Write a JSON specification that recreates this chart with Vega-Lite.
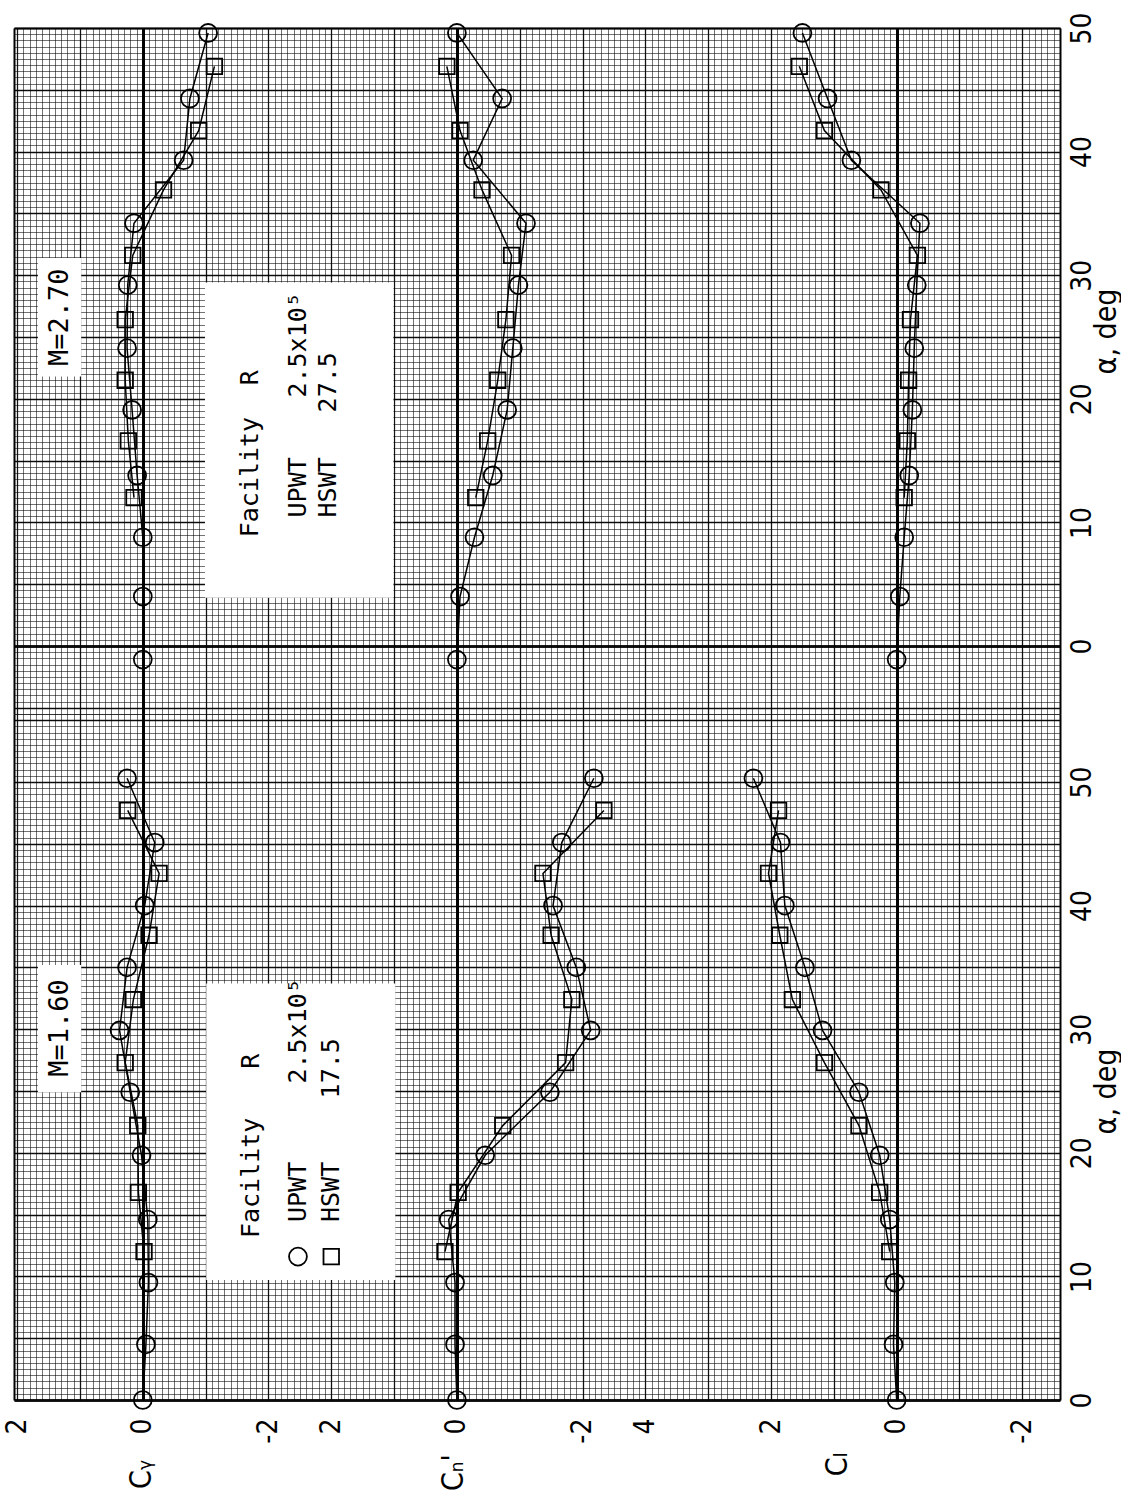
{
  "$schema": "https://vega.github.io/schema/vega-lite/v6.json",
  "background": "white",
  "padding": {"left": 3, "top": 11, "right": 0, "bottom": 0},
  "spacing": 0,
  "bounds": "flush",
  "config": {"view": {"stroke": null}},
  "datasets": {
    "pts": [
      {"panel": "M=2.70", "facility": "UPWT", "alpha": -1.1, "CY": 0.0, "Cn": 0.0, "Cl": 0.0},
      {"panel": "M=2.70", "facility": "UPWT", "alpha": 4.0, "CY": 0.0, "Cn": -0.05, "Cl": -0.05},
      {"panel": "M=2.70", "facility": "UPWT", "alpha": 8.8, "CY": 0.0, "Cn": -0.28, "Cl": -0.12},
      {"panel": "M=2.70", "facility": "UPWT", "alpha": 13.8, "CY": 0.09, "Cn": -0.57, "Cl": -0.2},
      {"panel": "M=2.70", "facility": "UPWT", "alpha": 19.1, "CY": 0.17, "Cn": -0.8, "Cl": -0.25},
      {"panel": "M=2.70", "facility": "UPWT", "alpha": 24.1, "CY": 0.25, "Cn": -0.89, "Cl": -0.28},
      {"panel": "M=2.70", "facility": "UPWT", "alpha": 29.2, "CY": 0.24, "Cn": -0.98, "Cl": -0.32},
      {"panel": "M=2.70", "facility": "UPWT", "alpha": 34.2, "CY": 0.14, "Cn": -1.1, "Cl": -0.37},
      {"panel": "M=2.70", "facility": "UPWT", "alpha": 39.3, "CY": -0.65, "Cn": -0.26, "Cl": 0.72},
      {"panel": "M=2.70", "facility": "UPWT", "alpha": 44.3, "CY": -0.75, "Cn": -0.72, "Cl": 1.1},
      {"panel": "M=2.70", "facility": "UPWT", "alpha": 49.6, "CY": -1.04, "Cn": 0.0, "Cl": 1.5},
      {"panel": "M=2.70", "facility": "HSWT", "alpha": 12.0, "CY": 0.14, "Cn": -0.3, "Cl": -0.12},
      {"panel": "M=2.70", "facility": "HSWT", "alpha": 16.6, "CY": 0.23, "Cn": -0.49, "Cl": -0.17},
      {"panel": "M=2.70", "facility": "HSWT", "alpha": 21.5, "CY": 0.28, "Cn": -0.65, "Cl": -0.19},
      {"panel": "M=2.70", "facility": "HSWT", "alpha": 26.4, "CY": 0.28, "Cn": -0.78, "Cl": -0.22},
      {"panel": "M=2.70", "facility": "HSWT", "alpha": 31.6, "CY": 0.16, "Cn": -0.87, "Cl": -0.33},
      {"panel": "M=2.70", "facility": "HSWT", "alpha": 36.9, "CY": -0.33, "Cn": -0.4, "Cl": 0.25},
      {"panel": "M=2.70", "facility": "HSWT", "alpha": 41.7, "CY": -0.89, "Cn": -0.05, "Cl": 1.15},
      {"panel": "M=2.70", "facility": "HSWT", "alpha": 46.9, "CY": -1.14, "Cn": 0.16, "Cl": 1.55},
      {"panel": "M=1.60", "facility": "UPWT", "alpha": 0.0, "CY": 0.0, "Cn": 0.0, "Cl": 0.0},
      {"panel": "M=1.60", "facility": "UPWT", "alpha": 4.5, "CY": -0.05, "Cn": 0.03, "Cl": 0.05},
      {"panel": "M=1.60", "facility": "UPWT", "alpha": 9.5, "CY": -0.09, "Cn": 0.03, "Cl": 0.03},
      {"panel": "M=1.60", "facility": "UPWT", "alpha": 14.6, "CY": -0.08, "Cn": 0.13, "Cl": 0.11},
      {"panel": "M=1.60", "facility": "UPWT", "alpha": 19.8, "CY": 0.02, "Cn": -0.45, "Cl": 0.27},
      {"panel": "M=1.60", "facility": "UPWT", "alpha": 24.9, "CY": 0.2, "Cn": -1.48, "Cl": 0.6},
      {"panel": "M=1.60", "facility": "UPWT", "alpha": 29.9, "CY": 0.37, "Cn": -2.13, "Cl": 1.18},
      {"panel": "M=1.60", "facility": "UPWT", "alpha": 35.0, "CY": 0.25, "Cn": -1.9, "Cl": 1.46},
      {"panel": "M=1.60", "facility": "UPWT", "alpha": 40.0, "CY": -0.03, "Cn": -1.53, "Cl": 1.78},
      {"panel": "M=1.60", "facility": "UPWT", "alpha": 45.1, "CY": -0.19, "Cn": -1.67, "Cl": 1.85},
      {"panel": "M=1.60", "facility": "UPWT", "alpha": 50.3, "CY": 0.25, "Cn": -2.18, "Cl": 2.28},
      {"panel": "M=1.60", "facility": "HSWT", "alpha": 12.0, "CY": -0.02, "Cn": 0.19, "Cl": 0.11},
      {"panel": "M=1.60", "facility": "HSWT", "alpha": 16.8, "CY": 0.07, "Cn": -0.02, "Cl": 0.27},
      {"panel": "M=1.60", "facility": "HSWT", "alpha": 22.2, "CY": 0.08, "Cn": -0.73, "Cl": 0.6},
      {"panel": "M=1.60", "facility": "HSWT", "alpha": 27.3, "CY": 0.28, "Cn": -1.73, "Cl": 1.15},
      {"panel": "M=1.60", "facility": "HSWT", "alpha": 32.4, "CY": 0.15, "Cn": -1.83, "Cl": 1.66},
      {"panel": "M=1.60", "facility": "HSWT", "alpha": 37.6, "CY": -0.1, "Cn": -1.5, "Cl": 1.86},
      {"panel": "M=1.60", "facility": "HSWT", "alpha": 42.6, "CY": -0.26, "Cn": -1.37, "Cl": 2.04},
      {"panel": "M=1.60", "facility": "HSWT", "alpha": 47.7, "CY": 0.24, "Cn": -2.34, "Cl": 1.88}
    ],
    "ann": [
      {"panel": "M=2.70", "kind": "box", "x": -0.99, "x2": -3.99, "a": 29.4, "a2": 3.9},
      {"panel": "M=2.70", "kind": "box", "x": 1.67, "x2": 0.98, "a": 31.4, "a2": 21.8},
      {"panel": "M=2.70", "kind": "mach", "text": "M=2.70", "x": 1.32, "a": 26.6},
      {"panel": "M=2.70", "kind": "text", "text": "Facility", "x": -1.71, "a": 8.8},
      {"panel": "M=2.70", "kind": "text", "text": "R", "x": -1.71, "a": 21.1},
      {"panel": "M=2.70", "kind": "text", "text": "UPWT", "x": -2.47, "a": 10.4},
      {"panel": "M=2.70", "kind": "text", "text": "2.5x10⁵", "x": -2.47, "a": 20.1},
      {"panel": "M=2.70", "kind": "text", "text": "HSWT", "x": -2.95, "a": 10.4},
      {"panel": "M=2.70", "kind": "text", "text": "27.5", "x": -2.95, "a": 18.9},
      {"panel": "M=1.60", "kind": "box", "x": -1.01, "x2": -4.02, "a": 33.7, "a2": 9.7},
      {"panel": "M=1.60", "kind": "box", "x": 1.67, "x2": 0.98, "a": 35.2, "a2": 24.9},
      {"panel": "M=1.60", "kind": "mach", "text": "M=1.60", "x": 1.32, "a": 30.1},
      {"panel": "M=1.60", "kind": "text", "text": "Facility", "x": -1.72, "a": 13.1},
      {"panel": "M=1.60", "kind": "text", "text": "R", "x": -1.72, "a": 26.8},
      {"panel": "M=1.60", "kind": "sym", "text": "UPWT", "x": -2.47, "a": 11.6},
      {"panel": "M=1.60", "kind": "text", "text": "UPWT", "x": -2.47, "a": 14.4},
      {"panel": "M=1.60", "kind": "text", "text": "2.5x10⁵", "x": -2.47, "a": 25.6},
      {"panel": "M=1.60", "kind": "sym", "text": "HSWT", "x": -3.0, "a": 11.6},
      {"panel": "M=1.60", "kind": "text", "text": "HSWT", "x": -3.0, "a": 14.4},
      {"panel": "M=1.60", "kind": "text", "text": "17.5", "x": -3.0, "a": 24.4}
    ]
  },
  "vconcat": [
    {
      "width": 1046,
      "height": 686,
      "resolve": {"scale": {"x": "independent", "y": "independent"}},
      "layer": [
        {
          "data": {"name": "pts"},
          "transform": [{"filter": "datum.panel === 'M=2.70'"}],
          "mark": {"type": "point", "opacity": 0},
          "encoding": {
            "x": {"field": "CY", "type": "quantitative", "scale": {"domain": [-14.6, 2.05], "reverse": true, "nice": false, "zero": false},
              "axis": {"orient": "bottom", "grid": true, "tickCount": 170, "labels": false, "ticks": false, "domain": false, "title": null, "gridColor": "#000", "gridOpacity": 0.62, "gridWidth": 0.9}},
            "y": {"field": "alpha", "type": "quantitative", "scale": {"domain": [-5.5, 50], "nice": false, "zero": false},
              "axis": {"orient": "left", "grid": true, "tickCount": 111, "labels": false, "ticks": false, "domain": true, "domainColor": "#000", "domainWidth": 2, "title": null, "gridColor": "#000", "gridOpacity": 0.62, "gridWidth": 0.9}}
          }
        },
        {
          "data": {"name": "pts"},
          "transform": [{"filter": "datum.panel === 'M=2.70'"}],
          "mark": {"type": "point", "opacity": 0},
          "encoding": {
            "x": {"field": "CY", "type": "quantitative", "scale": {"domain": [-14.6, 2.05], "reverse": true, "nice": false, "zero": false},
              "axis": {"orient": "top", "grid": true, "tickCount": 17, "labels": false, "ticks": false, "domain": true, "domainColor": "#000", "domainWidth": 2, "title": null, "gridColor": "#000", "gridOpacity": 0.85, "gridWidth": 1.3}},
            "y": {"field": "alpha", "type": "quantitative", "scale": {"domain": [-5.5, 50], "nice": false, "zero": false},
              "axis": {"orient": "right", "grid": true, "tickCount": 11, "gridColor": "#000", "gridOpacity": 0.9,
                "gridWidth": {"condition": {"test": "datum.value === 0", "value": 3}, "value": 1.3},
                "ticks": false, "domain": true, "domainColor": "#000", "domainWidth": 2,
                "labelExpr": "datum.value % 10 === 0 && datum.value >= 0 ? datum.label : ''",
                "labelAngle": -90, "labelAlign": "center", "labelBaseline": "top", "labelPadding": 8, "labelOverlap": false,
                "labelFont": "'Liberation Sans Narrow', 'DejaVu Sans Condensed', 'DejaVu Sans'", "labelFontSize": 28, "labelColor": "#000",
                "title": "α, deg", "titleAngle": -90, "titleX": 46, "titleY": 303, "titleAlign": "center", "titleBaseline": "middle",
                "titleFont": "'Liberation Sans Narrow', 'DejaVu Sans Condensed', 'DejaVu Sans'", "titleFontSize": 30, "titleFontWeight": "normal", "titleColor": "#000"}}
          }
        },
        {
          "data": {"name": "ann"},
          "transform": [{"filter": "datum.panel === 'M=2.70'"}],
          "encoding": {
            "x": {"field": "x", "type": "quantitative", "scale": {"domain": [-14.6, 2.05], "reverse": true, "nice": false, "zero": false}, "axis": null},
            "y": {"field": "a", "type": "quantitative", "scale": {"domain": [-5.5, 50], "nice": false, "zero": false}, "axis": null}
          },
          "layer": [
            {"transform": [{"filter": "datum.kind === 'box'"}], "mark": {"type": "rect", "color": "#fff", "opacity": 1}, "encoding": {"x2": {"field": "x2"}, "y2": {"field": "a2"}}},
            {"transform": [{"filter": "datum.kind === 'text'"}], "mark": {"type": "text", "angle": -90, "align": "left", "baseline": "middle", "font": "DejaVu Sans Mono", "fontSize": 25, "color": "#000"}, "encoding": {"text": {"field": "text"}}},
            {"transform": [{"filter": "datum.kind === 'mach'"}], "mark": {"type": "text", "angle": -90, "align": "center", "baseline": "middle", "font": "DejaVu Sans Mono", "fontSize": 27, "color": "#000"}, "encoding": {"text": {"field": "text"}}}
          ]
        },
        {
          "data": {"name": "pts"},
          "transform": [{"filter": "datum.panel === 'M=2.70'"}],
          "encoding": {
            "x": {"field": "CY", "type": "quantitative", "scale": {"domain": [-14.6, 2.05], "reverse": true, "nice": false, "zero": false},
              "axis": {"orient": "bottom", "values": [0], "grid": true, "gridColor": "#000", "gridWidth": 3, "labels": false, "ticks": false, "domain": false, "title": null}},
            "y": {"field": "alpha", "type": "quantitative", "scale": {"domain": [-5.5, 50], "nice": false, "zero": false}, "axis": null}
          },
          "layer": [
            {"mark": {"type": "line", "color": "#000", "strokeWidth": 1.5}, "encoding": {"detail": {"field": "facility", "type": "nominal"}, "order": {"field": "alpha", "type": "quantitative"}}},
            {"transform": [{"filter": "datum.facility === 'UPWT'"}], "mark": {"type": "point", "shape": "circle", "filled": false, "color": "#000", "size": 320, "strokeWidth": 1.8, "opacity": 1}},
            {"transform": [{"filter": "datum.facility === 'HSWT'"}], "mark": {"type": "point", "shape": "square", "filled": false, "color": "#000", "size": 240, "strokeWidth": 1.8, "opacity": 1}}
          ]
        },
        {
          "data": {"name": "pts"},
          "transform": [{"filter": "datum.panel === 'M=2.70'"}],
          "encoding": {
            "x": {"field": "Cn", "type": "quantitative", "scale": {"domain": [-9.6, 7.05], "reverse": true, "nice": false, "zero": false},
              "axis": {"orient": "bottom", "values": [0], "grid": true, "gridColor": "#000", "gridWidth": 3, "labels": false, "ticks": false, "domain": false, "title": null}},
            "y": {"field": "alpha", "type": "quantitative", "scale": {"domain": [-5.5, 50], "nice": false, "zero": false}, "axis": null}
          },
          "layer": [
            {"mark": {"type": "line", "color": "#000", "strokeWidth": 1.5}, "encoding": {"detail": {"field": "facility", "type": "nominal"}, "order": {"field": "alpha", "type": "quantitative"}}},
            {"transform": [{"filter": "datum.facility === 'UPWT'"}], "mark": {"type": "point", "shape": "circle", "filled": false, "color": "#000", "size": 320, "strokeWidth": 1.8, "opacity": 1}},
            {"transform": [{"filter": "datum.facility === 'HSWT'"}], "mark": {"type": "point", "shape": "square", "filled": false, "color": "#000", "size": 240, "strokeWidth": 1.8, "opacity": 1}}
          ]
        },
        {
          "data": {"name": "pts"},
          "transform": [{"filter": "datum.panel === 'M=2.70'"}],
          "encoding": {
            "x": {"field": "Cl", "type": "quantitative", "scale": {"domain": [-2.6, 14.05], "reverse": true, "nice": false, "zero": false},
              "axis": {"orient": "bottom", "values": [0], "grid": true, "gridColor": "#000", "gridWidth": 3, "labels": false, "ticks": false, "domain": false, "title": null}},
            "y": {"field": "alpha", "type": "quantitative", "scale": {"domain": [-5.5, 50], "nice": false, "zero": false}, "axis": null}
          },
          "layer": [
            {"mark": {"type": "line", "color": "#000", "strokeWidth": 1.5}, "encoding": {"detail": {"field": "facility", "type": "nominal"}, "order": {"field": "alpha", "type": "quantitative"}}},
            {"transform": [{"filter": "datum.facility === 'UPWT'"}], "mark": {"type": "point", "shape": "circle", "filled": false, "color": "#000", "size": 320, "strokeWidth": 1.8, "opacity": 1}},
            {"transform": [{"filter": "datum.facility === 'HSWT'"}], "mark": {"type": "point", "shape": "square", "filled": false, "color": "#000", "size": 240, "strokeWidth": 1.8, "opacity": 1}}
          ]
        }
      ]
    },
    {
      "width": 1046,
      "height": 686,
      "resolve": {"scale": {"x": "independent", "y": "independent"}},
      "layer": [
        {
          "data": {"name": "pts"},
          "transform": [{"filter": "datum.panel === 'M=1.60'"}],
          "mark": {"type": "point", "opacity": 0},
          "encoding": {
            "x": {"field": "CY", "type": "quantitative", "scale": {"domain": [-14.6, 2.05], "reverse": true, "nice": false, "zero": false},
              "axis": {"orient": "bottom", "grid": true, "tickCount": 170, "labels": false, "ticks": false, "domain": false, "title": null, "gridColor": "#000", "gridOpacity": 0.62, "gridWidth": 0.9}},
            "y": {"field": "alpha", "type": "quantitative", "scale": {"domain": [0, 55.5], "nice": false, "zero": false},
              "axis": {"orient": "left", "grid": true, "tickCount": 111, "labels": false, "ticks": false, "domain": true, "domainColor": "#000", "domainWidth": 2, "title": null, "gridColor": "#000", "gridOpacity": 0.62, "gridWidth": 0.9}}
          }
        },
        {
          "data": {"name": "pts"},
          "transform": [{"filter": "datum.panel === 'M=1.60'"}],
          "mark": {"type": "point", "opacity": 0},
          "encoding": {
            "x": {"field": "CY", "type": "quantitative", "scale": {"domain": [-14.6, 2.05], "reverse": true, "nice": false, "zero": false},
              "axis": {"orient": "top", "grid": true, "tickCount": 17, "labels": false, "ticks": false, "domain": false, "title": null, "gridColor": "#000", "gridOpacity": 0.85, "gridWidth": 1.3}},
            "y": {"field": "alpha", "type": "quantitative", "scale": {"domain": [0, 55.5], "nice": false, "zero": false},
              "axis": {"orient": "right", "grid": true, "tickCount": 11, "gridColor": "#000", "gridOpacity": 0.9,
                "gridWidth": {"condition": {"test": "datum.value === 0", "value": 3}, "value": 1.3},
                "ticks": false, "domain": true, "domainColor": "#000", "domainWidth": 2,
                "labelExpr": "datum.value % 10 === 0 && datum.value >= 0 ? datum.label : ''",
                "labelAngle": -90, "labelAlign": "center", "labelBaseline": "top", "labelPadding": 8, "labelOverlap": false,
                "labelFont": "'Liberation Sans Narrow', 'DejaVu Sans Condensed', 'DejaVu Sans'", "labelFontSize": 28, "labelColor": "#000",
                "title": "α, deg", "titleAngle": -90, "titleX": 46, "titleY": 377, "titleAlign": "center", "titleBaseline": "middle",
                "titleFont": "'Liberation Sans Narrow', 'DejaVu Sans Condensed', 'DejaVu Sans'", "titleFontSize": 30, "titleFontWeight": "normal", "titleColor": "#000"}}
          }
        },
        {
          "data": {"name": "ann"},
          "transform": [{"filter": "datum.panel === 'M=1.60'"}],
          "encoding": {
            "x": {"field": "x", "type": "quantitative", "scale": {"domain": [-14.6, 2.05], "reverse": true, "nice": false, "zero": false}, "axis": null},
            "y": {"field": "a", "type": "quantitative", "scale": {"domain": [0, 55.5], "nice": false, "zero": false}, "axis": null}
          },
          "layer": [
            {"transform": [{"filter": "datum.kind === 'box'"}], "mark": {"type": "rect", "color": "#fff", "opacity": 1}, "encoding": {"x2": {"field": "x2"}, "y2": {"field": "a2"}}},
            {"transform": [{"filter": "datum.kind === 'text'"}], "mark": {"type": "text", "angle": -90, "align": "left", "baseline": "middle", "font": "DejaVu Sans Mono", "fontSize": 25, "color": "#000"}, "encoding": {"text": {"field": "text"}}},
            {"transform": [{"filter": "datum.kind === 'mach'"}], "mark": {"type": "text", "angle": -90, "align": "center", "baseline": "middle", "font": "DejaVu Sans Mono", "fontSize": 27, "color": "#000"}, "encoding": {"text": {"field": "text"}}},
            {"transform": [{"filter": "datum.kind === 'sym' && datum.text === 'UPWT'"}], "mark": {"type": "point", "shape": "circle", "filled": false, "color": "#000", "size": 320, "strokeWidth": 1.8, "opacity": 1}},
            {"transform": [{"filter": "datum.kind === 'sym' && datum.text === 'HSWT'"}], "mark": {"type": "point", "shape": "square", "filled": false, "color": "#000", "size": 240, "strokeWidth": 1.8, "opacity": 1}}
          ]
        },
        {
          "data": {"name": "pts"},
          "transform": [{"filter": "datum.panel === 'M=1.60'"}],
          "encoding": {
            "x": {"field": "CY", "type": "quantitative", "scale": {"domain": [-14.6, 2.05], "reverse": true, "nice": false, "zero": false},
              "axis": {"orient": "bottom", "values": [2, 0, -2], "grid": true, "gridColor": "#000",
                "gridWidth": {"condition": {"test": "datum.value === 0", "value": 3}, "value": 0},
                "labelExpr": "(datum.value < 0 ? '-' : '') + abs(datum.value)",
                "labelAngle": -90, "labelAlign": "right", "labelBaseline": "middle", "labelPadding": 18, "labelFlush": false,
                "labelFont": "'Liberation Sans Narrow', 'DejaVu Sans Condensed', 'DejaVu Sans'", "labelFontSize": 28, "labelColor": "#000",
                "ticks": false, "domain": false,
                "title": "Cᵧ", "titleAngle": -90, "titleX": 127, "titleY": 74, "titleAlign": "center", "titleBaseline": "middle",
                "titleFont": "'Liberation Sans Narrow', 'DejaVu Sans Condensed', 'DejaVu Sans'", "titleFontSize": 30, "titleFontWeight": "normal", "titleColor": "#000"}},
            "y": {"field": "alpha", "type": "quantitative", "scale": {"domain": [0, 55.5], "nice": false, "zero": false}, "axis": null}
          },
          "layer": [
            {"mark": {"type": "line", "color": "#000", "strokeWidth": 1.5}, "encoding": {"detail": {"field": "facility", "type": "nominal"}, "order": {"field": "alpha", "type": "quantitative"}}},
            {"transform": [{"filter": "datum.facility === 'UPWT'"}], "mark": {"type": "point", "shape": "circle", "filled": false, "color": "#000", "size": 320, "strokeWidth": 1.8, "opacity": 1}},
            {"transform": [{"filter": "datum.facility === 'HSWT'"}], "mark": {"type": "point", "shape": "square", "filled": false, "color": "#000", "size": 240, "strokeWidth": 1.8, "opacity": 1}}
          ]
        },
        {
          "data": {"name": "pts"},
          "transform": [{"filter": "datum.panel === 'M=1.60'"}],
          "encoding": {
            "x": {"field": "Cn", "type": "quantitative", "scale": {"domain": [-9.6, 7.05], "reverse": true, "nice": false, "zero": false},
              "axis": {"orient": "bottom", "values": [2, 0, -2], "grid": true, "gridColor": "#000",
                "gridWidth": {"condition": {"test": "datum.value === 0", "value": 3}, "value": 0},
                "labelExpr": "(datum.value < 0 ? '-' : '') + abs(datum.value)",
                "labelAngle": -90, "labelAlign": "right", "labelBaseline": "middle", "labelPadding": 18, "labelFlush": false,
                "labelFont": "'Liberation Sans Narrow', 'DejaVu Sans Condensed', 'DejaVu Sans'", "labelFontSize": 28, "labelColor": "#000",
                "ticks": false, "domain": false,
                "title": "Cₙ'", "titleAngle": -90, "titleX": 439, "titleY": 72, "titleAlign": "center", "titleBaseline": "middle",
                "titleFont": "'Liberation Sans Narrow', 'DejaVu Sans Condensed', 'DejaVu Sans'", "titleFontSize": 30, "titleFontWeight": "normal", "titleColor": "#000"}},
            "y": {"field": "alpha", "type": "quantitative", "scale": {"domain": [0, 55.5], "nice": false, "zero": false}, "axis": null}
          },
          "layer": [
            {"mark": {"type": "line", "color": "#000", "strokeWidth": 1.5}, "encoding": {"detail": {"field": "facility", "type": "nominal"}, "order": {"field": "alpha", "type": "quantitative"}}},
            {"transform": [{"filter": "datum.facility === 'UPWT'"}], "mark": {"type": "point", "shape": "circle", "filled": false, "color": "#000", "size": 320, "strokeWidth": 1.8, "opacity": 1}},
            {"transform": [{"filter": "datum.facility === 'HSWT'"}], "mark": {"type": "point", "shape": "square", "filled": false, "color": "#000", "size": 240, "strokeWidth": 1.8, "opacity": 1}}
          ]
        },
        {
          "data": {"name": "pts"},
          "transform": [{"filter": "datum.panel === 'M=1.60'"}],
          "encoding": {
            "x": {"field": "Cl", "type": "quantitative", "scale": {"domain": [-2.6, 14.05], "reverse": true, "nice": false, "zero": false},
              "axis": {"orient": "bottom", "values": [4, 2, 0, -2], "grid": true, "gridColor": "#000",
                "gridWidth": {"condition": {"test": "datum.value === 0", "value": 3}, "value": 0},
                "labelExpr": "(datum.value < 0 ? '-' : '') + abs(datum.value)",
                "labelAngle": -90, "labelAlign": "right", "labelBaseline": "middle", "labelPadding": 18, "labelFlush": false,
                "labelFont": "'Liberation Sans Narrow', 'DejaVu Sans Condensed', 'DejaVu Sans'", "labelFontSize": 28, "labelColor": "#000",
                "ticks": false, "domain": false,
                "title": "Cₗ", "titleAngle": -90, "titleX": 823, "titleY": 64, "titleAlign": "center", "titleBaseline": "middle",
                "titleFont": "'Liberation Sans Narrow', 'DejaVu Sans Condensed', 'DejaVu Sans'", "titleFontSize": 30, "titleFontWeight": "normal", "titleColor": "#000"}},
            "y": {"field": "alpha", "type": "quantitative", "scale": {"domain": [0, 55.5], "nice": false, "zero": false}, "axis": null}
          },
          "layer": [
            {"mark": {"type": "line", "color": "#000", "strokeWidth": 1.5}, "encoding": {"detail": {"field": "facility", "type": "nominal"}, "order": {"field": "alpha", "type": "quantitative"}}},
            {"transform": [{"filter": "datum.facility === 'UPWT'"}], "mark": {"type": "point", "shape": "circle", "filled": false, "color": "#000", "size": 320, "strokeWidth": 1.8, "opacity": 1}},
            {"transform": [{"filter": "datum.facility === 'HSWT'"}], "mark": {"type": "point", "shape": "square", "filled": false, "color": "#000", "size": 240, "strokeWidth": 1.8, "opacity": 1}}
          ]
        }
      ]
    }
  ]
}
